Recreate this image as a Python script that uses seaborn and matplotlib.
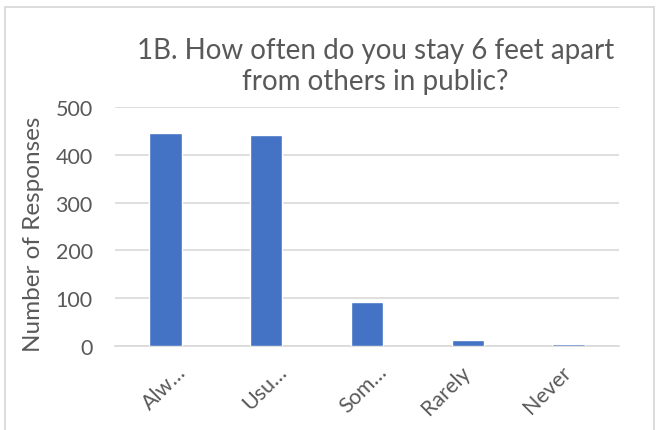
import matplotlib
matplotlib.use("Agg")
import matplotlib.pyplot as plt
import matplotlib.transforms as mtransforms
import seaborn as sns
import pandas as pd
from matplotlib.patches import Rectangle

categories = ["Alw…", "Usu…", "Som…", "Rarely", "Never"]
responses = [445, 441, 92, 12, 4]
y_ticks = [0, 100, 200, 300, 400, 500]
title = "1B. How often do you stay 6 feet apart\nfrom others in public?"
y_label = "Number of Responses"

sns.set_theme(style="white")
plt.rcParams['font.family'] = ['Lato', 'DejaVu Sans']

text_color = "#595959"
bar_color = "#4472C4"
grid_color = "#D9D9D9"

df = pd.DataFrame({"category": categories, "responses": responses})

fig = plt.figure(figsize=(6.56, 4.31), dpi=100)
ax = fig.add_axes([0.1753, 0.1949, 0.7683, 0.5545])

sns.barplot(data=df, x="category", y="responses", color=bar_color,
            width=0.32, saturation=1, ax=ax, zorder=3)

ax.set_ylim(0, 500)
ax.set_xlim(-0.5, len(categories) - 0.5)
ax.set_yticks(y_ticks)
ax.yaxis.grid(True, color=grid_color, linewidth=1.2, zorder=0)
ax.xaxis.grid(False)
for s in ["top", "right", "left"]:
    ax.spines[s].set_visible(False)
ax.spines["bottom"].set_color(grid_color)
ax.spines["bottom"].set_linewidth(1.2)
ax.tick_params(axis="both", length=0, colors=text_color, labelsize=15.5)
ax.tick_params(axis="y", pad=16)
ax.set_xlabel("")
ax.set_ylabel(y_label, color=text_color, fontsize=17.5)
ax.yaxis.set_label_coords(-0.14, 0.47)
ax.tick_params(axis="x", pad=11)
for lab in ax.get_xticklabels():
    lab.set_rotation(45)
    lab.set_ha("right")
    lab.set_rotation_mode("anchor")
    short = len(lab.get_text()) <= 4
    dx = 10 if short else -8
    lab.set_transform(lab.get_transform() +
                      mtransforms.ScaledTranslation(dx / 100, 0, fig.dpi_scale_trans))

fig.text(0.572, 0.846, title, ha="center", va="center", color=text_color,
         fontsize=20, linespacing=1.25)

fig.patches.append(Rectangle((5 / 656, -0.05), 649 / 656, 1 - 8 / 431 + 0.05,
                             transform=fig.transFigure, fill=False,
                             edgecolor=grid_color, linewidth=1.3))

fig.savefig("out.png", dpi=100)
